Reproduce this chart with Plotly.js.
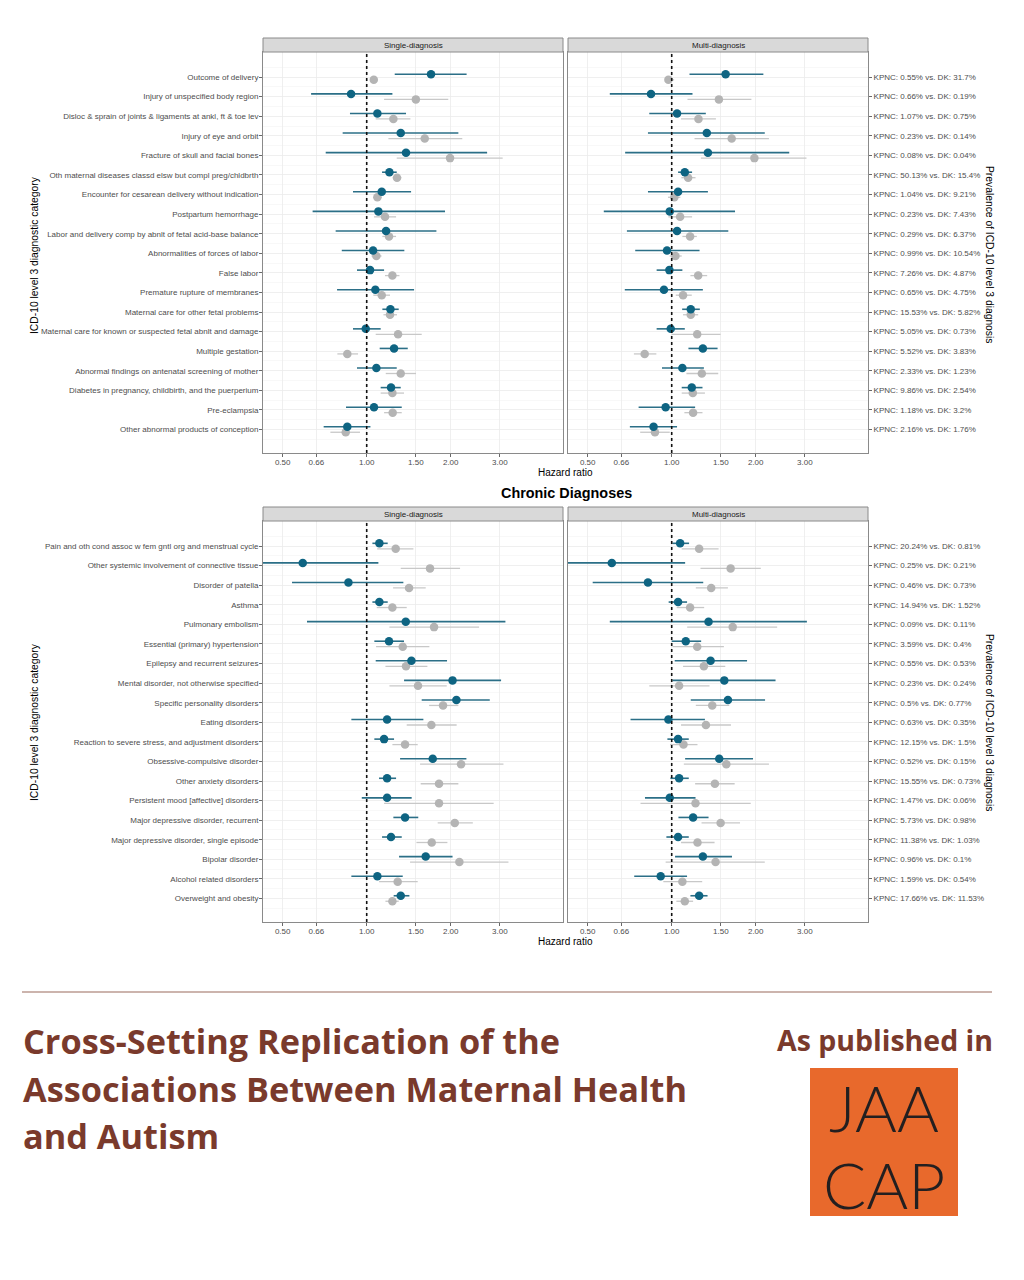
<!DOCTYPE html>
<html>
<head>
<meta charset="utf-8">
<script src="https://cdn.plot.ly/plotly-3.0.1.min.js"></script>
<style>html,body{margin:0;padding:0;background:#fff;}#chart{width:1024px;height:1280px;}</style>
</head>
<body>
<div id="chart"></div>
<script>
// ---------- DATA ----------
const acuteCategories = [
  "Outcome of delivery",
  "Injury of unspecified body region",
  "Disloc & sprain of joints & ligaments at ankl, ft & toe lev",
  "Injury of eye and orbit",
  "Fracture of skull and facial bones",
  "Oth maternal diseases classd elsw but compl preg/chldbrth",
  "Encounter for cesarean delivery without indication",
  "Postpartum hemorrhage",
  "Labor and delivery comp by abnlt of fetal acid-base balance",
  "Abnormalities of forces of labor",
  "False labor",
  "Premature rupture of membranes",
  "Maternal care for other fetal problems",
  "Maternal care for known or suspected fetal abnlt and damage",
  "Multiple gestation",
  "Abnormal findings on antenatal screening of mother",
  "Diabetes in pregnancy, childbirth, and the puerperium",
  "Pre-eclampsia",
  "Other abnormal products of conception"
];
const acutePrevalence = [
  "KPNC: 0.55% vs. DK: 31.7%", "KPNC: 0.66% vs. DK: 0.19%", "KPNC: 1.07% vs. DK: 0.75%",
  "KPNC: 0.23% vs. DK: 0.14%", "KPNC: 0.08% vs. DK: 0.04%", "KPNC: 50.13% vs. DK: 15.4%",
  "KPNC: 1.04% vs. DK: 9.21%", "KPNC: 0.23% vs. DK: 7.43%", "KPNC: 0.29% vs. DK: 6.37%",
  "KPNC: 0.99% vs. DK: 10.54%", "KPNC: 7.26% vs. DK: 4.87%", "KPNC: 0.65% vs. DK: 4.75%",
  "KPNC: 15.53% vs. DK: 5.82%", "KPNC: 5.05% vs. DK: 0.73%", "KPNC: 5.52% vs. DK: 3.83%",
  "KPNC: 2.33% vs. DK: 1.23%", "KPNC: 9.86% vs. DK: 2.54%", "KPNC: 1.18% vs. DK: 3.2%",
  "KPNC: 2.16% vs. DK: 1.76%"
];
const chronicCategories = [
  "Pain and oth cond assoc w fem gntl org and menstrual cycle",
  "Other systemic involvement of connective tissue",
  "Disorder of patella",
  "Asthma",
  "Pulmonary embolism",
  "Essential (primary) hypertension",
  "Epilepsy and recurrent seizures",
  "Mental disorder, not otherwise specified",
  "Specific personality disorders",
  "Eating disorders",
  "Reaction to severe stress, and adjustment disorders",
  "Obsessive-compulsive disorder",
  "Other anxiety disorders",
  "Persistent mood [affective] disorders",
  "Major depressive disorder, recurrent",
  "Major depressive disorder, single episode",
  "Bipolar disorder",
  "Alcohol related disorders",
  "Overweight and obesity"
];
const chronicPrevalence = [
  "KPNC: 20.24% vs. DK: 0.81%", "KPNC: 0.25% vs. DK: 0.21%", "KPNC: 0.46% vs. DK: 0.73%",
  "KPNC: 14.94% vs. DK: 1.52%", "KPNC: 0.09% vs. DK: 0.11%", "KPNC: 3.59% vs. DK: 0.4%",
  "KPNC: 0.55% vs. DK: 0.53%", "KPNC: 0.23% vs. DK: 0.24%", "KPNC: 0.5% vs. DK: 0.77%",
  "KPNC: 0.63% vs. DK: 0.35%", "KPNC: 12.15% vs. DK: 1.5%", "KPNC: 0.52% vs. DK: 0.15%",
  "KPNC: 15.55% vs. DK: 0.73%", "KPNC: 1.47% vs. DK: 0.06%", "KPNC: 5.73% vs. DK: 0.98%",
  "KPNC: 11.38% vs. DK: 1.03%", "KPNC: 0.96% vs. DK: 0.1%", "KPNC: 1.59% vs. DK: 0.54%",
  "KPNC: 17.66% vs. DK: 11.53%"
];
const hrTickVals = [0.5, 0.66, 1, 1.5, 2, 3];
const hrTickText = ["0.50", "0.66", "1.00", "1.50", "2.00", "3.00"];

// Acute - single diagnosis
const acuteSingleKpncHR = [1.70,0.879,1.092,1.324,1.383,1.206,1.132,1.101,1.173,1.054,1.028,1.074,1.216,0.992,1.253,1.083,1.222,1.062,0.852];
const acuteSingleKpncLo = [1.26,0.632,0.871,0.820,0.713,1.135,0.893,0.640,0.774,0.814,0.923,0.783,1.138,0.893,1.113,0.923,1.122,0.843,0.701];
const acuteSingleKpncHi = [2.28,1.236,1.383,2.13,2.70,1.281,1.442,1.908,1.777,1.364,1.154,1.478,1.302,1.122,1.403,1.281,1.324,1.335,1.031];
const acuteSingleDkHR   = [1.06,1.50,1.246,1.614,1.989,1.284,1.092,1.163,1.202,1.083,1.236,1.132,1.212,1.295,0.852,1.324,1.236,1.239,0.841];
const acuteSingleDkLo   = [1.03,1.154,1.077,1.196,1.281,1.239,1.056,1.062,1.138,1.04,1.163,1.056,1.148,1.077,0.785,1.17,1.122,1.154,0.741];
const acuteSingleDkHi   = [1.09,1.96,1.434,2.20,3.07,1.331,1.132,1.274,1.274,1.13,1.31,1.212,1.284,1.574,0.931,1.502,1.36,1.335,0.946];
// Acute - multi diagnosis
const acuteMultiKpncHR = [1.56,0.843,1.045,1.336,1.348,1.114,1.054,0.984,1.045,0.962,0.981,0.938,1.17,0.992,1.293,1.092,1.18,0.951,0.861];
const acuteMultiKpncLo = [1.158,0.600,0.831,0.822,0.681,1.054,0.822,0.571,0.691,0.740,0.883,0.679,1.09,0.883,1.148,0.923,1.086,0.761,0.708];
const acuteMultiKpncHi = [2.13,1.187,1.325,2.155,2.637,1.183,1.348,1.686,1.595,1.258,1.092,1.293,1.261,1.114,1.46,1.304,1.289,1.213,1.045];
const acuteMultiDkHR   = [0.973,1.476,1.247,1.64,1.978,1.145,1.022,1.072,1.164,1.031,1.244,1.098,1.17,1.234,0.80,1.282,1.19,1.193,0.871];
const acuteMultiDkLo   = [0.946,1.139,1.08,1.207,1.272,1.083,0.97,0.973,1.092,0.983,1.167,1.034,1.098,1.0,0.732,1.129,1.086,1.11,0.771];
const acuteMultiDkHi   = [1.02,1.93,1.44,2.23,3.04,1.217,1.074,1.183,1.23,1.086,1.34,1.18,1.244,1.497,0.881,1.468,1.315,1.289,0.984];
// Chronic - single diagnosis
const chronicSingleKpncHR = [1.11,0.59,0.86,1.11,1.38,1.202,1.446,2.03,2.096,1.183,1.154,1.724,1.183,1.183,1.372,1.222,1.627,1.092,1.324];
const chronicSingleKpncLo = [1.048,0.40,0.54,1.048,0.611,1.065,1.077,1.361,1.574,0.881,1.065,1.317,1.107,0.96,1.246,1.135,1.306,0.881,1.249];
const chronicSingleKpncHi = [1.189,1.101,1.353,1.189,3.14,1.36,1.94,3.03,2.76,1.596,1.253,2.276,1.274,1.449,1.53,1.335,2.03,1.346,1.422];
const chronicSingleDkHR   = [1.27,1.686,1.418,1.236,1.743,1.346,1.383,1.527,1.877,1.705,1.372,2.178,1.816,1.816,2.068,1.71,2.148,1.291,1.236];
const chronicSingleDkLo   = [1.09,1.324,1.243,1.086,1.206,1.08,1.167,1.206,1.673,1.391,1.236,1.553,1.561,1.154,1.796,1.507,1.43,1.107,1.167];
const chronicSingleDkHi   = [1.47,2.16,1.627,1.391,2.527,1.677,1.65,1.935,2.13,2.1,1.523,3.09,2.13,2.85,2.40,1.946,3.22,1.523,1.302];
// Chronic - multi diagnosis
const chronicMultiKpncHR = [1.072,0.61,0.822,1.054,1.355,1.123,1.378,1.543,1.59,0.973,1.054,1.48,1.063,0.984,1.193,1.054,1.293,0.913,1.254];
const chronicMultiKpncLo = [1.006,0.40,0.521,0.975,0.60,1.0,1.025,1.006,1.17,0.712,0.965,1.117,0.989,0.802,1.057,0.957,1.028,0.734,1.167];
const chronicMultiKpncHi = [1.154,1.117,1.297,1.135,3.05,1.275,1.862,2.355,2.16,1.315,1.151,1.956,1.151,1.217,1.355,1.151,1.644,1.135,1.344];
const chronicMultiDkHR   = [1.254,1.626,1.385,1.164,1.654,1.234,1.304,1.063,1.397,1.326,1.102,1.569,1.428,1.217,1.497,1.237,1.436,1.092,1.114];
const chronicMultiDkLo   = [1.086,1.268,1.22,1.042,1.136,1.006,1.098,0.831,1.22,1.08,0.986,1.105,1.213,0.773,1.279,1.08,0.951,0.933,1.039];
const chronicMultiDkHi   = [1.472,2.085,1.59,1.307,2.387,1.538,1.556,1.366,1.608,1.63,1.237,2.23,1.681,1.919,1.757,1.424,2.155,1.286,1.193];

// ---------- STYLE ----------
const W = 1024, H = 1280;
const px = v => v / W;
const py = v => 1 - v / H;
const TEAL = "#0e6482", TEAL_LINE = "#2b6f87", GREY = "#b4b4b4", GREY_LINE = "#c8c8c8";
const FONT = "Liberation Sans, Arial, sans-serif";
const DODGE = 0.14;
const N = acuteCategories.length;
const rowPos = arr => arr.map((_, i) => N - i);

function series(hr, lo, hi, xa, ya, color, lineColor, offset, name) {
  return {
    type: "scatter", mode: "markers", name: name, showlegend: false,
    x: hr, y: rowPos(hr).map(v => v + offset),
    xaxis: xa, yaxis: ya,
    marker: {color: color, size: 8.5, line: {width: 0}},
    error_x: {type: "data", symmetric: false,
      array: hi.map((h, i) => h - hr[i]), arrayminus: lo.map((l, i) => hr[i] - l),
      color: lineColor, thickness: color === TEAL ? 1.6 : 1.3, width: 0},
    hoverinfo: "x+y"
  };
}

const traces = [
  series(acuteSingleDkHR, acuteSingleDkLo, acuteSingleDkHi, "x", "y", GREY, GREY_LINE, -DODGE, "DK"),
  series(acuteSingleKpncHR, acuteSingleKpncLo, acuteSingleKpncHi, "x", "y", TEAL, TEAL_LINE, DODGE, "KPNC"),
  series(acuteMultiDkHR, acuteMultiDkLo, acuteMultiDkHi, "x2", "y2", GREY, GREY_LINE, -DODGE, "DK"),
  series(acuteMultiKpncHR, acuteMultiKpncLo, acuteMultiKpncHi, "x2", "y2", TEAL, TEAL_LINE, DODGE, "KPNC"),
  series(chronicSingleDkHR, chronicSingleDkLo, chronicSingleDkHi, "x3", "y3", GREY, GREY_LINE, -DODGE, "DK"),
  series(chronicSingleKpncHR, chronicSingleKpncLo, chronicSingleKpncHi, "x3", "y3", TEAL, TEAL_LINE, DODGE, "KPNC"),
  series(chronicMultiDkHR, chronicMultiDkLo, chronicMultiDkHi, "x4", "y4", GREY, GREY_LINE, -DODGE, "DK"),
  series(chronicMultiKpncHR, chronicMultiKpncLo, chronicMultiKpncHi, "x4", "y4", TEAL, TEAL_LINE, DODGE, "KPNC")
];

const XL = [px(263), px(563)], XR = [px(568), px(868)];
const YT = [py(453), py(52)], YB = [py(922), py(521)];
const XRANGE = [Math.log10(0.425), Math.log10(5.05)];
const YRANGE = [-0.2, 20.28];

function xAxis(domain, anchor) {
  return {
    domain: domain, anchor: anchor, type: "log", range: XRANGE,
    tickmode: "array", tickvals: hrTickVals, ticktext: hrTickText,
    ticks: "outside", ticklen: 3, tickcolor: "#444", tickwidth: 0.8, ticklabelstandoff: -2,
    tickfont: {family: FONT, size: 8, color: "#4d4d4d"},
    showgrid: true, gridcolor: "#ebebeb", gridwidth: 0.8,
    showline: true, mirror: true, linecolor: "#8a8a8a", linewidth: 1,
    zeroline: false, fixedrange: true
  };
}
function yAxis(domain, anchor, labels, side, size, standoff) {
  return {
    domain: domain, anchor: anchor, range: YRANGE, side: side,
    tickmode: "array", tickvals: rowPos(labels), ticktext: labels,
    ticks: "outside", ticklen: 3, tickcolor: "#444", tickwidth: 0.8, ticklabelstandoff: standoff,
    tickfont: {family: FONT, size: size, color: "#4d4d4d"},
    showgrid: true, gridcolor: "#ebebeb", gridwidth: 0.8,
    minor: {tickmode: "linear", tick0: 0.5, dtick: 1, showgrid: true, gridcolor: "#f3f3f3", gridwidth: 0.6, ticks: ""},
    showline: true, mirror: true, linecolor: "#8a8a8a", linewidth: 1,
    zeroline: false, fixedrange: true
  };
}

const shapes = [];
const annotations = [];
// reference line at HR = 1
[["x","y"],["x2","y2"],["x3","y3"],["x4","y4"]].forEach(([xa, ya]) => {
  shapes.push({type: "line", xref: xa, yref: ya + " domain", x0: 1, x1: 1, y0: 0, y1: 1,
    line: {color: "#111", width: 1.6, dash: "dot"}, layer: "above"});
});
// facet strips
function strip(xd, topPx, label) {
  shapes.push({type: "rect", xref: "paper", yref: "paper", x0: xd[0], x1: xd[1],
    y0: py(topPx), y1: py(topPx - 14), fillcolor: "#d9d9d9", line: {color: "#8a8a8a", width: 1}});
  annotations.push({xref: "paper", yref: "paper", x: (xd[0] + xd[1]) / 2, y: py(topPx - 7),
    text: label, showarrow: false, xanchor: "center", yanchor: "middle",
    font: {family: FONT, size: 8, color: "#1a1a1a"}});
}
strip(XL, 52, "Single-diagnosis"); strip(XR, 52, "Multi-diagnosis");
strip(XL, 521, "Single-diagnosis"); strip(XR, 521, "Multi-diagnosis");

function txt(x, y, text, opts) {
  annotations.push(Object.assign({xref: "paper", yref: "paper", x: x, y: y, text: text,
    showarrow: false, xanchor: "center", yanchor: "middle",
    font: {family: FONT, size: 10, color: "#000"}}, opts || {}));
}
const AX_TITLE = {family: FONT, size: 10.3, color: "#000"};
txt(px(565), py(472), "Hazard ratio");
txt(px(565), py(941), "Hazard ratio");
txt(px(34), py(255), "ICD-10 level 3 diagnostic category", {textangle: -90, font: AX_TITLE});
txt(px(34), py(722), "ICD-10 level 3 diagnostic category", {textangle: -90, font: AX_TITLE});
txt(px(990), py(254), "Prevalence of ICD-10 level 3 diagnosis", {textangle: 90, font: AX_TITLE});
txt(px(990), py(722), "Prevalence of ICD-10 level 3 diagnosis", {textangle: 90, font: AX_TITLE});
txt(px(566), py(493), "<b>Chronic Diagnoses</b>", {font: {family: FONT, size: 14.4, color: "#000"}});

// footer
const BROWN = "#7a3a2c";
shapes.push({type: "line", xref: "paper", yref: "paper", x0: px(22), x1: px(992), y0: py(992), y1: py(992),
  line: {color: "#9a6a5c", width: 1.2}});
const TITLE_FONT = {family: "Open Sans, Noto Sans, sans-serif", size: 34.3, color: BROWN, weight: 700};
txt(px(21), py(1040), "Cross-Setting Replication of the", {xanchor: "left", font: TITLE_FONT});
txt(px(21), py(1088), "Associations Between Maternal Health", {xanchor: "left", font: TITLE_FONT});
txt(px(21), py(1135), "and Autism", {xanchor: "left", font: TITLE_FONT});
txt(px(995), py(1040), "As published in", {xanchor: "right",
  font: {family: "Open Sans, Noto Sans, sans-serif", size: 28.5, color: BROWN, weight: 700}});
shapes.push({type: "rect", xref: "paper", yref: "paper", x0: px(810), x1: px(958), y0: py(1216), y1: py(1068),
  fillcolor: "#e8692c", line: {width: 0}});
const LOGO_FONT = {family: "Lato, Open Sans, sans-serif", size: 64, color: "#231f20", weight: 300};
txt(px(884), py(1107), "JAA", {font: LOGO_FONT});
txt(px(884), py(1184), "CAP", {font: LOGO_FONT});

const layout = {
  width: W, height: H, margin: {l: 0, r: 0, t: 0, b: 0},
  paper_bgcolor: "#fff", plot_bgcolor: "#fff", showlegend: false,
  xaxis: xAxis(XL, "y"), yaxis: yAxis(YT, "x", acuteCategories, "left", 8.0, -1),
  xaxis2: xAxis(XR, "y2"), yaxis2: yAxis(YT, "x2", acutePrevalence, "right", 8, 0),
  xaxis3: xAxis(XL, "y3"), yaxis3: yAxis(YB, "x3", chronicCategories, "left", 8.0, -1),
  xaxis4: xAxis(XR, "y4"), yaxis4: yAxis(YB, "x4", chronicPrevalence, "right", 8, 0),
  shapes: shapes, annotations: annotations
};

Plotly.newPlot("chart", traces, layout, {displayModeBar: false, staticPlot: true});
</script>
</body>
</html>
